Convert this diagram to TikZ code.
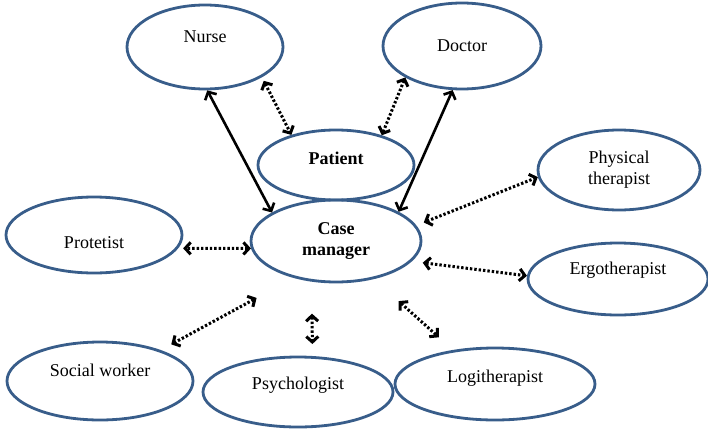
\documentclass[tikz,border=0pt]{standalone}
\usepackage{fontspec}
\setmainfont{Liberation Serif}
\usetikzlibrary{arrows.meta,shapes.geometric,positioning}
\definecolor{ovalblue}{RGB}{56,93,138}
\tikzset{%
	oval/.style     = {draw=ovalblue, line width=2.8pt, ellipse, inner sep=0pt}, % role
	caption/.style  = {font=\fontsize{18}{21}\selectfont, align=center}, % text in a role
	link/.style     = {line width=2.6pt, {Straight Barb[length=6pt,width=13pt]}-{Straight Barb[length=6pt,width=13pt]}},
	dotlink/.style  = {line width=3pt, dash pattern=on 2.4pt off 2pt, {Straight Barb[length=5.5pt,width=12pt]}-{Straight Barb[length=5.5pt,width=12pt]}},
}

\begin{document}
\begin{tikzpicture}[x=1pt,y=-1pt]
	\useasboundingbox (0,0) rectangle (708,428);
	\node [oval, minimum width=156pt, minimum height=84pt, label={[caption,yshift=10pt]center:Nurse}] (nurse) at (205,47) {};
	\node [oval, minimum width=158pt, minimum height=86pt, label={[caption]center:Doctor}] (doctor) at (462,46) {};
	\node [oval, minimum width=156pt, minimum height=70pt, label={[caption,yshift=7pt]center:\textbf{Patient}}] (patient) at (336,165) {};
	\node [oval, minimum width=170pt, minimum height=82pt, label={[caption]center:\textbf{Case}\\\textbf{manager}}] (cm) at (336,241) {};
	\node [oval, minimum width=176pt, minimum height=76pt, label={[caption,yshift=-8pt]center:Protetist}] (protetist) at (94,235) {};
	\node [oval, minimum width=162pt, minimum height=80pt, label={[caption]center:Physical\\therapist}] (phys) at (619,170) {};
	\node [oval, minimum width=180pt, minimum height=72pt, label={[caption,yshift=9pt]center:Ergotherapist}] (ergo) at (618,279) {};
	\node [oval, minimum width=186pt, minimum height=78pt, label={[caption,yshift=11pt]center:Social worker}] (social) at (100,381) {};
	\node [oval, minimum width=190pt, minimum height=70pt, label={[caption,yshift=7pt]center:Psychologist}] (psych) at (298,392) {};
	\node [oval, minimum width=200pt, minimum height=72pt, label={[caption,yshift=6pt]center:Logitherapist}] (logi) at (495,384) {};

	% solid links to the case manager
	\draw[link] (nurse.-87) -- (cm.156);
	\draw[link] (doctor.-102) -- (cm.25);
	% dotted links
	\draw[dotlink, shorten <=4pt] (nurse.-28) -- (patient.146);
	\draw[dotlink] (doctor.209) -- (patient.33);
	\draw[dotlink, shorten <=8pt] (cm.11) -- (phys.185);
	\draw[dotlink, shorten <=11pt] (cm.-15) -- (ergo.178);
	\draw[dotlink, shorten >=5pt] (cm.185) -- (protetist.-9);
	\draw[dotlink, shorten <=42pt, shorten >=12pt] (cm.221) -- (social.27);
	\draw[dotlink, shorten <=32pt, shorten >=12pt] (cm.239) -- (psych.68);
	\draw[dotlink, shorten <=33pt, shorten >=19pt] (cm.-45) -- (logi.141);
\end{tikzpicture}
\end{document}
